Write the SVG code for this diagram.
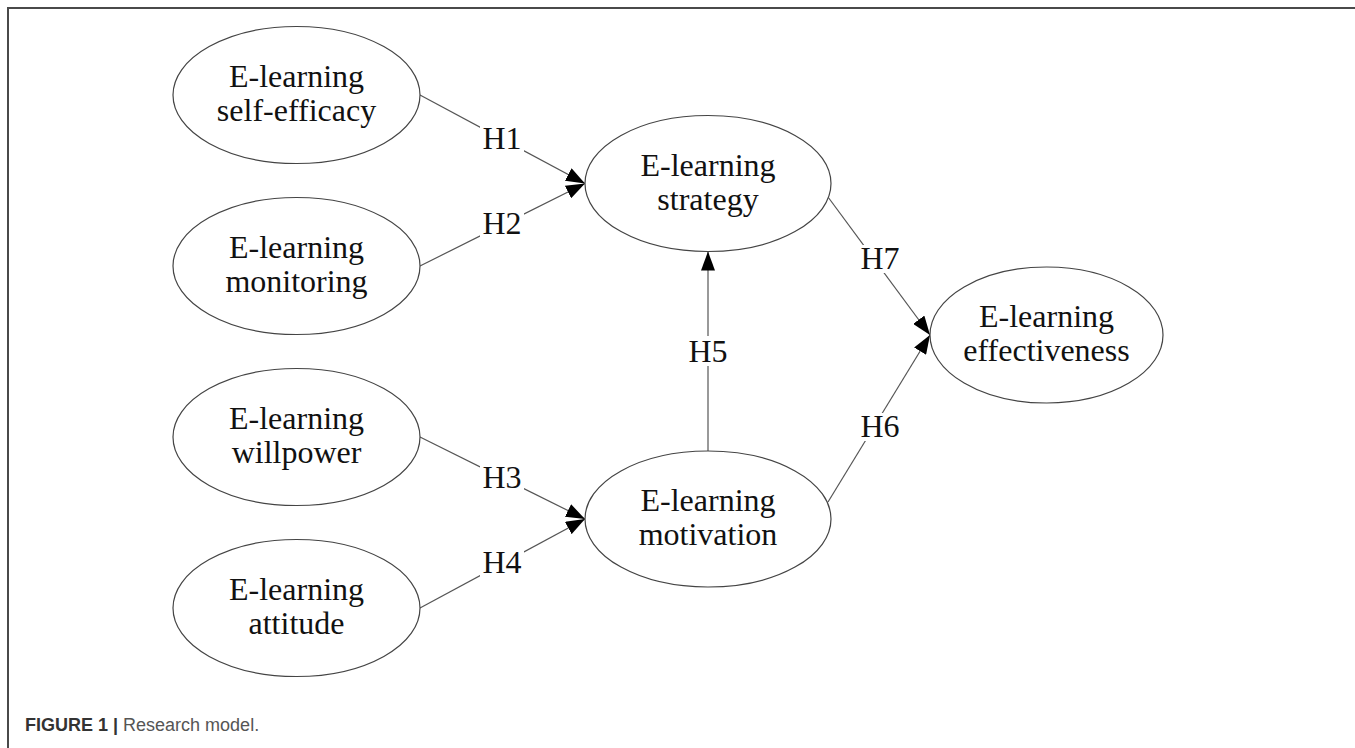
<svg xmlns="http://www.w3.org/2000/svg" width="1355" height="748" viewBox="0 0 1355 748">
<style>
.node ellipse{fill:#fff;stroke:#444;stroke-width:1.2}
.node text{font-family:"Liberation Serif","Times New Roman",serif;font-size:32px;fill:#111;text-anchor:middle}
.edge line{stroke:#555;stroke-width:1.2}
.lbl rect{fill:#fff}
.lbl text{font-family:"Liberation Serif","Times New Roman",serif;font-size:32px;fill:#111;text-anchor:middle}
.frame{stroke:#4a4a4a;stroke-width:2;fill:none}
.cap{font-family:"Liberation Sans",Arial,sans-serif;font-size:18px}
</style>
<defs>
<marker id="arr" markerUnits="userSpaceOnUse" markerWidth="19" markerHeight="14" refX="19" refY="7" orient="auto" viewBox="0 0 19 14">
<path d="M0,0 L19,7 L0,14 z" fill="#000"/>
</marker>
</defs>
<rect width="1355" height="748" fill="#fff"/>
<path class="frame" d="M8,748 V8 H1355"/>

<g id="connectors" class="edge">
<line x1="420" y1="95" x2="585" y2="183.5" marker-end="url(#arr)"/>
<line x1="420" y1="266" x2="585" y2="183.5" marker-end="url(#arr)"/>
<line x1="420" y1="437" x2="585" y2="519" marker-end="url(#arr)"/>
<line x1="420" y1="608" x2="585" y2="519" marker-end="url(#arr)"/>
<line x1="708" y1="451" x2="708" y2="251.5" marker-end="url(#arr)"/>
<line x1="828" y1="197" x2="930" y2="335" marker-end="url(#arr)"/>
<line x1="828" y1="502" x2="930" y2="335" marker-end="url(#arr)"/>
<g class="lbl">
<rect x="480" y="126" width="44" height="27"/><text x="502" y="149">H1</text>
<rect x="480" y="210" width="44" height="28"/><text x="502" y="234">H2</text>
<rect x="480" y="464" width="44" height="28"/><text x="502" y="488">H3</text>
<rect x="480" y="549" width="44" height="28"/><text x="502" y="573">H4</text>
<rect x="686" y="336" width="44" height="30"/><text x="708" y="362">H5</text>
<rect x="858" y="245" width="44" height="28"/><text x="880" y="269">H7</text>
<rect x="858" y="413" width="44" height="28"/><text x="880" y="437">H6</text>
</g>
</g>

<g id="self-efficacy" class="node"><ellipse cx="296.5" cy="95" rx="123.5" ry="68.5"/><text x="296.5" y="87">E-learning</text><text x="296.5" y="121">self-efficacy</text></g>
<g id="monitoring" class="node"><ellipse cx="296.5" cy="266" rx="123.5" ry="68.5"/><text x="296.5" y="258">E-learning</text><text x="296.5" y="292">monitoring</text></g>
<g id="willpower" class="node"><ellipse cx="296.5" cy="437" rx="123.5" ry="68.5"/><text x="296.5" y="429">E-learning</text><text x="296.5" y="463">willpower</text></g>
<g id="attitude" class="node"><ellipse cx="296.5" cy="608" rx="123.5" ry="68.5"/><text x="296.5" y="600">E-learning</text><text x="296.5" y="634">attitude</text></g>
<g id="strategy" class="node"><ellipse cx="708" cy="183.5" rx="123" ry="68"/><text x="708" y="176">E-learning</text><text x="708" y="210">strategy</text></g>
<g id="motivation" class="node"><ellipse cx="708" cy="519" rx="123" ry="68"/><text x="708" y="511">E-learning</text><text x="708" y="545">motivation</text></g>
<g id="effectiveness" class="node"><ellipse cx="1046.5" cy="335" rx="116.5" ry="68"/><text x="1046.5" y="327">E-learning</text><text x="1046.5" y="361">effectiveness</text></g>

<text class="cap" x="25" y="731"><tspan font-weight="bold" fill="#333">FIGURE 1 |</tspan><tspan fill="#555"> Research model.</tspan></text>
</svg>
